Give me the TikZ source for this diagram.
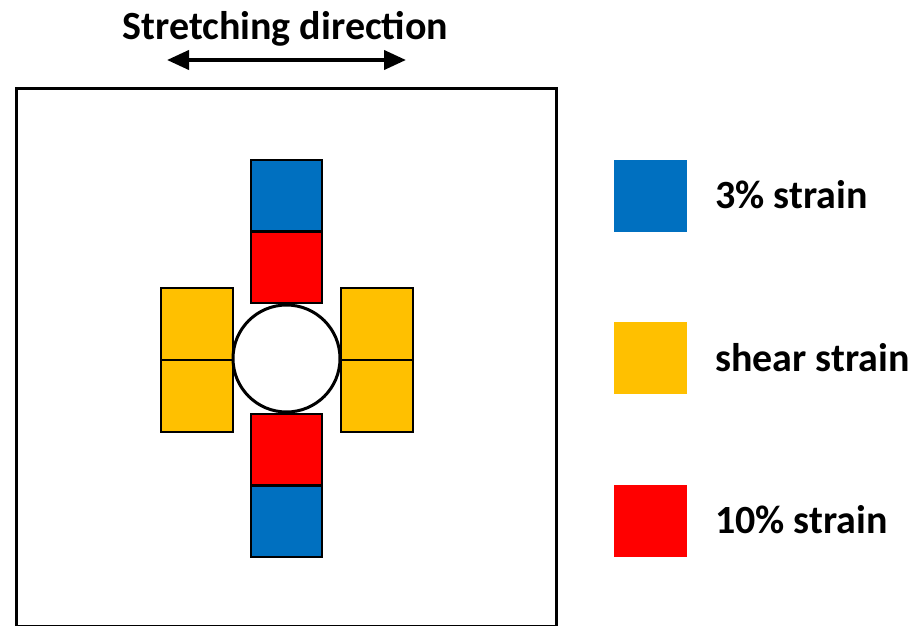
\documentclass[tikz,border=0pt]{standalone}
\usepackage{fontspec}
\setmainfont{Carlito}
\usetikzlibrary{arrows.meta}
\definecolor{sblue}{HTML}{0070C0}
\definecolor{syellow}{HTML}{FFC000}
\definecolor{sred}{HTML}{FF0000}
\begin{document}
\begin{tikzpicture}[x=1pt,y=-1pt,
  cell/.style={draw=black,line width=2.2pt,minimum width=71pt,minimum height=71pt,inner sep=0pt,outer sep=0pt,anchor=north west},
  legsq/.style={minimum width=73pt,minimum height=72pt,inner sep=0pt,outer sep=0pt,anchor=north west},
  lab/.style={font=\bfseries\fontsize{40}{48}\selectfont,anchor=base west,inner sep=0pt}]
\useasboundingbox (0,0) rectangle (918,626);
% outer box
\node[draw=black,line width=3pt,minimum width=540pt,minimum height=538pt,inner sep=0pt,anchor=north west] (frame) at (15,87) {};
% title and arrow
\node[font=\bfseries\fontsize{40}{48}\selectfont,anchor=base,inner sep=0pt] (title) at (285.5,40) {Stretching direction};
\coordinate (aL) at (167,60);
\coordinate (aR) at (406,60);
\draw[line width=4pt,{Triangle[length=22pt,width=19pt]}-{Triangle[length=22pt,width=19pt]}] (aL) -- (aR);
% top column
\node[cell,fill=sblue] (tb) at (251,160) {};
\node[cell,fill=sred] (tr) at (251,232) {};
% bottom column
\node[cell,fill=sred] (br) at (251,414) {};
\node[cell,fill=sblue] (bb) at (251,486) {};
% left column
\node[cell,fill=syellow,minimum width=72pt,minimum height=72pt] (l1) at (161,288) {};
\node[cell,fill=syellow,minimum width=72pt,minimum height=72pt] (l2) at (161,360) {};
% right column
\node[cell,fill=syellow,minimum width=72pt,minimum height=72pt] (r1) at (341,288) {};
\node[cell,fill=syellow,minimum width=72pt,minimum height=72pt] (r2) at (341,360) {};
% hole
\node[circle,draw=black,fill=white,line width=3pt,minimum size=107pt,inner sep=0pt] (hole) at (286.5,358.5) {};
% legend
\node[legsq,fill=sblue] (k1) at (614,160) {};
\node[legsq,fill=syellow] (k2) at (614,322) {};
\node[legsq,fill=sred] (k3) at (614,485) {};
\node[lab] (t1) at (715,208) {3\% strain};
\node[lab] (t2) at (715,371) {shear strain};
\node[lab] (t3) at (715,533) {10\% strain};
\end{tikzpicture}
\end{document}
